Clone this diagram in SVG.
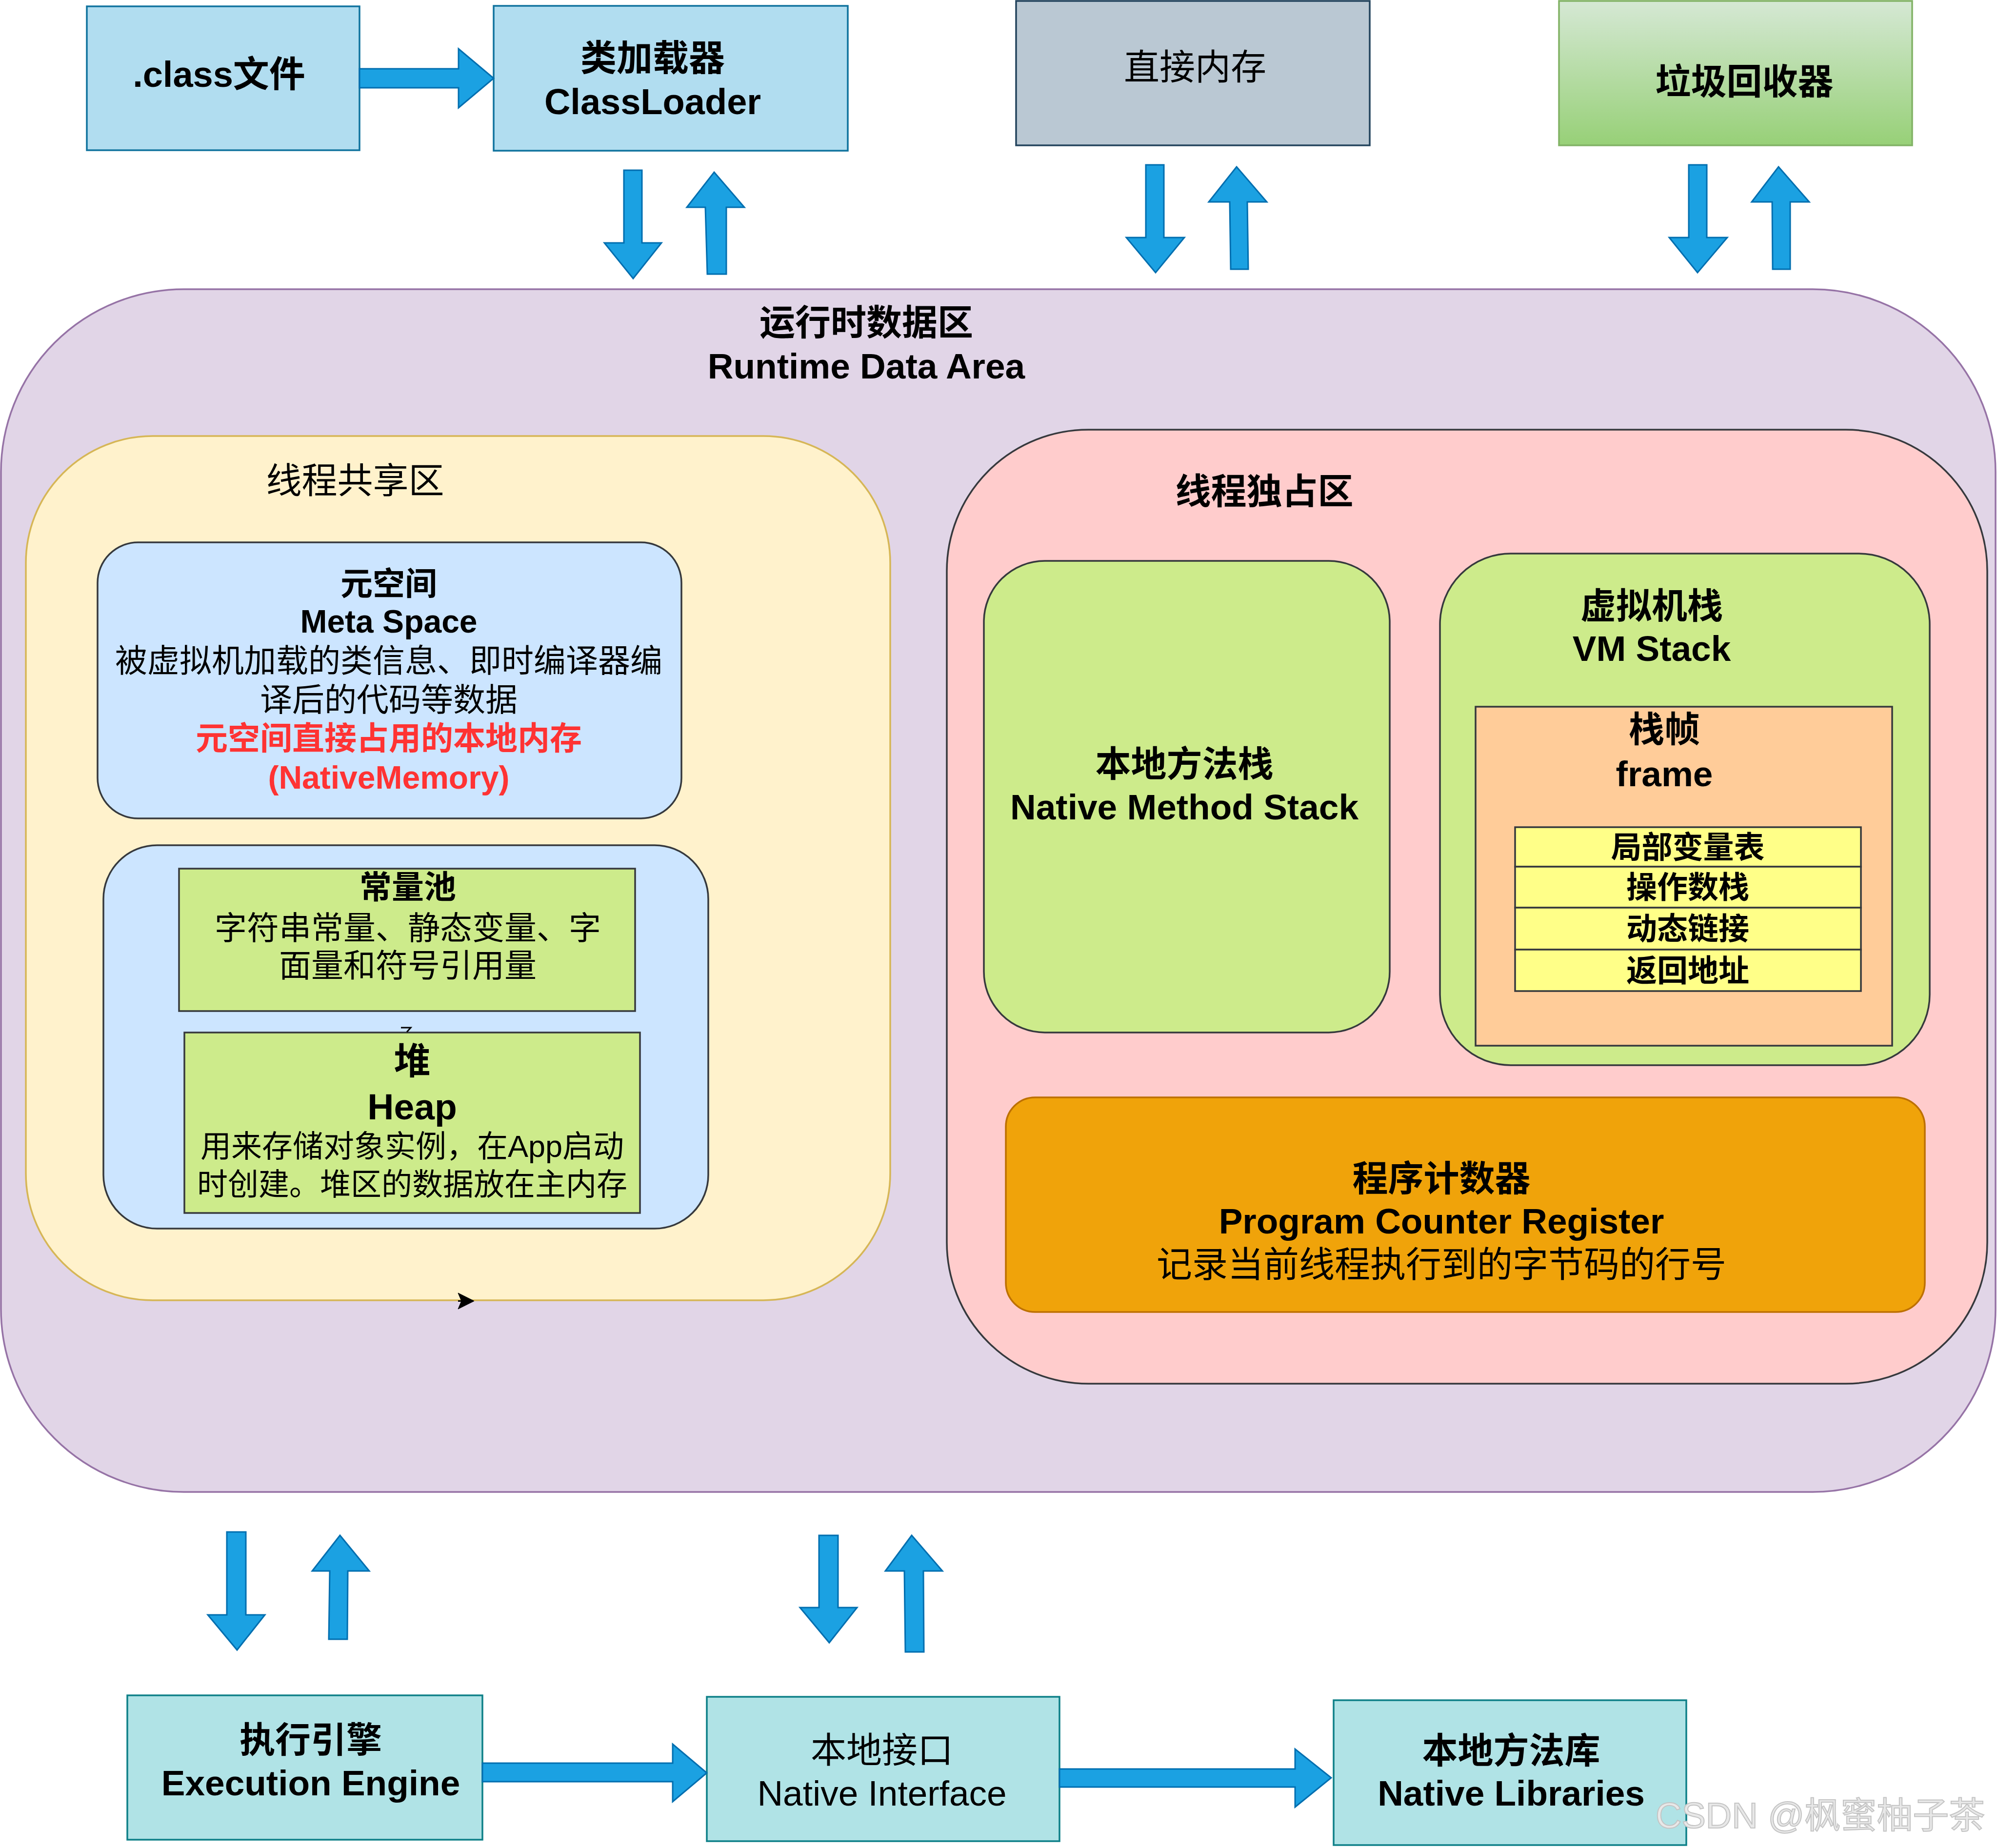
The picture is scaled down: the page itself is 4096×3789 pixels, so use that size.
<svg xmlns="http://www.w3.org/2000/svg" width="4096" height="3789" viewBox="0 0 4096 3789">
<defs>
<linearGradient id="gcGrad" x1="0" y1="0" x2="0" y2="1">
<stop offset="0" stop-color="#d5e8d4"/>
<stop offset="1" stop-color="#97d077"/>
</linearGradient>
<style>
text{font-family:"Liberation Sans","Noto Sans CJK SC",sans-serif;text-anchor:middle;dominant-baseline:central;fill:#000}
.b{font-weight:bold}
.f74{font-size:74px}
.f73{font-size:73px}
.f66{font-size:66px}
.f63{font-size:63px}
.f75{font-size:75px}
.red{fill:#ff3333}
.arrow{fill:#1ba1e2;stroke:#006eaf;stroke-width:3;stroke-linejoin:miter}
.dark{stroke:#36393d;stroke-width:3.5}
</style>
</defs>
<rect width="4096" height="3789" fill="#ffffff"/>

<g id="runtime-data-area">
<rect x="2" y="593" width="4089" height="2466" rx="375" ry="375" fill="#e1d5e7" stroke="#9673a6" stroke-width="3.5"/>
<text class="b f73" x="1776" y="661">运行时数据区</text>
<text class="b f73" x="1776" y="750">Runtime Data Area</text>
</g>

<g id="thread-shared">
<rect x="53" y="894" width="1772" height="1772" rx="260" ry="260" fill="#fff2cc" stroke="#d6b656" stroke-width="3.5"/>
<text class="f73" x="728" y="985">线程共享区</text>
</g>

<g id="metaspace">
<rect x="200" y="1112" width="1197" height="566" rx="83" ry="83" fill="#cce5ff" class="dark"/>
<text class="b f66" x="797" y="1197">元空间</text>
<text class="b f66" x="797" y="1274">Meta Space</text>
<text class="f66" x="797" y="1355">被虚拟机加载的类信息、即时编译器编</text>
<text class="f66" x="797" y="1435">译后的代码等数据</text>
<text class="b f66 red" x="797" y="1514">元空间直接占用的本地内存</text>
<text class="b f66 red" x="797" y="1594">(NativeMemory)</text>
</g>

<g id="pool-heap-container">
<rect x="212" y="1733" width="1240" height="786" rx="110" ry="110" fill="#cce5ff" class="dark"/>
</g>

<g id="constant-pool">
<rect x="367" y="1781" width="935" height="292" fill="#cdeb8b" class="dark"/>
<text class="b f66" x="836" y="1819">常量池</text>
<text class="f66" x="836" y="1903">字符串常量、静态变量、字</text>
<text class="f66" x="836" y="1980">面量和符号引用量</text>
</g>

<g id="heap">
<rect x="378" y="2117" width="934" height="370" fill="#cdeb8b" class="dark"/>
<text class="b f75" x="845" y="2176">堆</text>
<text class="b f75" x="845" y="2269">Heap</text>
<text class="f63" x="845" y="2350">用来存储对象实例，在App启动</text>
<text class="f63" x="845" y="2428">时创建。堆区的数据放在主内存</text>
</g>

<g id="thread-private">
<rect x="1941" y="881" width="2133" height="1956" rx="290" ry="290" fill="#ffcccc" class="dark"/>
<text class="b f73" x="2592" y="1007">线程独占区</text>
</g>

<g id="native-method-stack">
<rect x="2017" y="1150" width="832" height="967" rx="125" ry="125" fill="#cdeb8b" class="dark"/>
<text class="b f73" x="2428" y="1566">本地方法栈</text>
<text class="b f73" x="2428" y="1654">Native Method Stack</text>
</g>

<g id="vm-stack">
<rect x="2952" y="1135" width="1004" height="1049" rx="145" ry="145" fill="#cdeb8b" class="dark"/>
<text class="b f73" x="3386" y="1242">虚拟机栈</text>
<text class="b f73" x="3386" y="1329">VM Stack</text>
</g>

<g id="frame">
<rect x="3025" y="1449" width="854" height="695" fill="#ffcc99" class="dark"/>
<text class="b f73" x="3412" y="1495">栈帧</text>
<text class="b f73" x="3412" y="1586">frame</text>
</g>

<g id="local-variables">
<rect x="3106" y="1696" width="709" height="81" fill="#ffff88" class="dark"/>
<text class="b f63" x="3460" y="1737">局部变量表</text>
</g>
<g id="operand-stack">
<rect x="3106" y="1777" width="709" height="84" fill="#ffff88" class="dark"/>
<text class="b f63" x="3460" y="1819">操作数栈</text>
</g>
<g id="dynamic-linking">
<rect x="3106" y="1861" width="709" height="86" fill="#ffff88" class="dark"/>
<text class="b f63" x="3460" y="1904">动态链接</text>
</g>
<g id="return-address">
<rect x="3106" y="1947" width="709" height="85" fill="#ffff88" class="dark"/>
<text class="b f63" x="3460" y="1990">返回地址</text>
</g>

<g id="program-counter">
<rect x="2062" y="2250" width="1884" height="440" rx="60" ry="60" fill="#f0a30a" stroke="#bd7000" stroke-width="3.5"/>
<text class="b f73" x="2955" y="2416">程序计数器</text>
<text class="b f73" x="2955" y="2503">Program Counter Register</text>
<text class="f73" x="2955" y="2592">记录当前线程执行到的字节码的行号</text>
</g>

<g id="class-file">
<rect x="178" y="13" width="559" height="295" fill="#b1ddf0" stroke="#10739e" stroke-width="3.5"/>
<text class="b f74" x="449" y="152">.class文件</text>
</g>

<g id="class-loader">
<rect x="1012" y="12" width="726" height="297" fill="#b1ddf0" stroke="#10739e" stroke-width="3.5"/>
<text class="b f74" x="1338" y="119">类加载器</text>
<text class="b f74" x="1338" y="208">ClassLoader</text>
</g>

<g id="direct-memory">
<rect x="2083" y="2" width="725" height="296" fill="#bac8d3" stroke="#23445d" stroke-width="3.5"/>
<text class="f73" x="2450" y="137">直接内存</text>
</g>

<g id="garbage-collector">
<rect x="3196" y="2" width="724" height="296" fill="url(#gcGrad)" stroke="#82b366" stroke-width="3.5"/>
<text class="b f73" x="3576" y="167">垃圾回收器</text>
</g>

<g id="execution-engine">
<rect x="261" y="3476" width="728" height="296" fill="#b0e3e6" stroke="#0e8088" stroke-width="3.5"/>
<text class="b f73" x="637" y="3567">执行引擎</text>
<text class="b f73" x="637" y="3655">Execution Engine</text>
</g>

<g id="native-interface">
<rect x="1449" y="3479" width="723" height="296" fill="#b0e3e6" stroke="#0e8088" stroke-width="3.5"/>
<text class="f73" x="1808" y="3588">本地接口</text>
<text class="f73" x="1808" y="3676">Native Interface</text>
</g>

<g id="native-libraries">
<rect x="2734" y="3486" width="723" height="297" fill="#b0e3e6" stroke="#0e8088" stroke-width="3.5"/>
<text class="b f73" x="3098" y="3589">本地方法库</text>
<text class="b f73" x="3098" y="3676">Native Libraries</text>
</g>

<g id="connectors">
<polygon class="arrow" points="737,141 940,141 940,100 1012,160.5 940,221 940,180 737,180"/>
<polygon class="arrow" points="1279,349 1316,349 1316,498 1356,498 1298,571 1239,498 1279,498"/>
<polygon class="arrow" points="1464,353 1526,425 1489,425 1489,562 1450,562 1446,425 1408,425"/>
<polygon class="arrow" points="2349,338 2386,338 2386,487 2428,487 2369,559 2309,487 2349,487"/>
<polygon class="arrow" points="2535,342 2597,414 2557,414 2559,552 2523,552 2521,414 2478,414"/>
<polygon class="arrow" points="3462,338 3499,338 3499,487 3541,487 3480,559 3422,487 3462,487"/>
<polygon class="arrow" points="3646,342 3709,414 3670,414 3670,552 3634,552 3633,414 3591,414"/>
<polygon class="arrow" points="465,3141 504,3141 504,3311 543,3311 486,3383 426,3311 465,3311"/>
<polygon class="arrow" points="697,3148 757,3221 713,3221 712,3361 674,3361 676,3221 640,3221"/>
<polygon class="arrow" points="1679,3148 1718,3148 1718,3296 1757,3296 1700,3368 1640,3296 1679,3296"/>
<polygon class="arrow" points="1869,3148 1932,3221 1893,3221 1894,3387 1856,3387 1854,3221 1815,3221"/>
<polygon class="arrow" points="989,3615 1379,3615 1379,3576 1449,3635 1379,3694 1379,3653 989,3653"/>
<polygon class="arrow" points="2172,3627 2655,3627 2655,3586 2729,3645 2655,3705 2655,3664 2172,3664"/>
<path d="M939,2651 L972,2667.5 L939,2684 L946,2667.5 Z" fill="#000000" stroke="#000000" stroke-width="1"/>
<path d="M939,2667.5 L946,2667.5" stroke="#000000" stroke-width="3"/>
<path d="M822,2107 L842,2107 L834,2116" fill="none" stroke="#000000" stroke-width="3"/>
</g>

<text x="3394" y="3722" style="text-anchor:start;font-size:74px;fill:#e8e8e8;stroke:#c4c4c4;stroke-width:2">CSDN @枫蜜柚子茶</text>
</svg>
